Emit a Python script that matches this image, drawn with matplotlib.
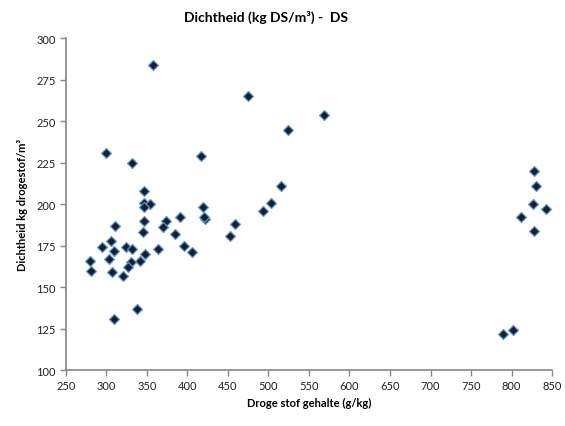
import matplotlib
matplotlib.use("Agg")
import matplotlib.pyplot as plt

plt.rcParams["font.family"] = ["Lato", "DejaVu Sans"]

# droge stof gehalte (g/kg) en dichtheid (kg DS/m3) per monster
droge_stof = [
    357, 475, 299, 332, 417, 346, 346, 354, 419, 346,
    422, 420, 346, 391, 374, 370, 311, 345, 385,
    459, 453, 305, 294, 324, 331, 309, 363, 396, 406,
    348, 341, 330, 327, 303, 280, 281, 307, 320, 338,
    309, 524, 568, 515, 503, 493, 828, 830, 827, 842,
    812, 828, 789, 802,
]
dichtheid = [
    284, 265, 231, 225, 229, 208, 201, 200, 198, 198,
    191, 192, 190, 192, 190, 186, 187, 183, 182,
    188, 181, 178, 174, 174, 173, 172, 173, 175, 171,
    170, 166, 165, 162, 167, 166, 160, 159, 157, 137,
    131, 245, 254, 211, 201, 196, 220, 211, 200, 197,
    192, 184, 122, 124,
]

fig = plt.figure(figsize=(5.65, 4.27), dpi=100)
ax = fig.add_axes([0.1168, 0.131, 0.8602, 0.777])

ax.plot(droge_stof, dichtheid, linestyle="none", marker="D", markersize=5,
        markerfacecolor="#1c1f2a", markeredgecolor="#5b9bd5", markeredgewidth=0.9)

ax.set_xlim(250, 850)
ax.set_ylim(100, 300)
ax.set_xticks(range(250, 851, 50))
ax.set_yticks(range(100, 301, 25))

for side in ("top", "right"):
    ax.spines[side].set_visible(False)
for side in ("left", "bottom"):
    ax.spines[side].set_color("#868686")
    ax.spines[side].set_linewidth(1.2)
ax.tick_params(direction="out", length=4, width=1, color="#868686",
               labelsize=8, labelcolor="#222222")

ax.set_xlabel("Droge stof gehalte (g/kg)", fontsize=8, fontweight="bold", labelpad=4)
ax.set_ylabel("Dichtheid kg drogestof/m³", fontsize=8, fontweight="bold", labelpad=6)
fig.suptitle("Dichtheid (kg DS/m³) -  DS", x=0.471, y=0.975, fontsize=10, fontweight="bold")

fig.savefig("out.png", dpi=100)
